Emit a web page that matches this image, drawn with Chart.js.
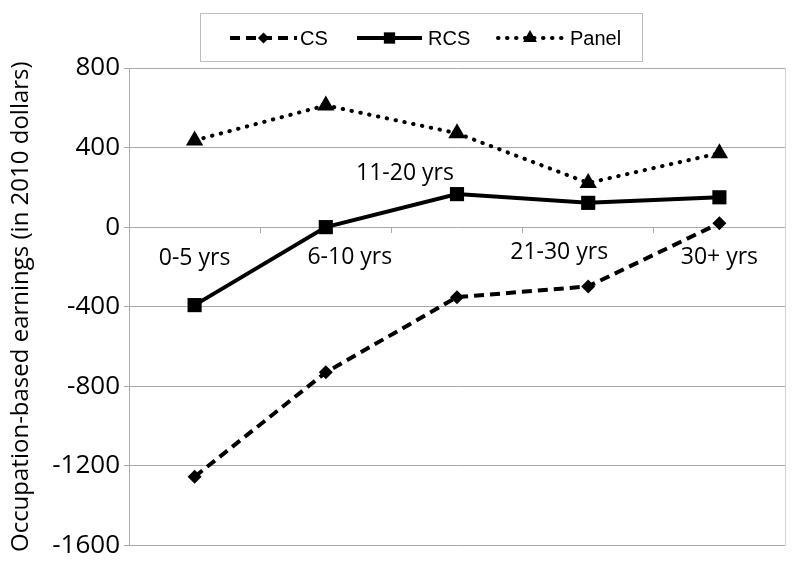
<!DOCTYPE html>
<html>
<head>
<meta charset="utf-8">
<script src="https://cdn.jsdelivr.net/npm/chart.js@4"></script>
<style>
    html, body { margin: 0; padding: 0; background: #ffffff; }
    #wrap { width: 800px; height: 565px; }
</style>
</head>
<body>
<div id="wrap"><canvas id="earningsChart" width="800" height="565"></canvas></div>
<script>
// Категории (опыт работы)
const categories = ['0-5 yrs', '6-10 yrs', '11-20 yrs', '21-30 yrs', '30+ yrs'];

// Значения серий
const csValues = [-1255, -730, -352, -298, 20];
const rcsValues = [-392, 0, 166, 122, 150];
const panelValues = [436, 612, 472, 222, 372];

// Шкала Y
const yMin = -1600;
const yMax = 800;
const yStep = 400;

const seriesNames = ['CS', 'RCS', 'Panel'];

// Стили серий
const seriesStyles = [
    { dash: [10, 6], cap: 'butt', point: 'rectRot', radius: 7 },
    { dash: [], cap: 'butt', point: 'rect', radius: 10 },
    { dash: [0.5, 8.5], cap: 'round', point: 'triangle', radius: 10 }
];

// Смещения подписей категорий относительно центра и линии 0
const labelOffsets = [
    { dx: 0, dy: 31 },
    { dx: 24, dy: 30 },
    { dx: -52, dy: -54 },
    { dx: -29, dy: 25 },
    { dx: 0, dy: 30 }
];

const gridColor = '#a9a9a9';

const categoryLabels = {
    id: 'categoryLabels',
    afterDatasetsDraw(chart) {
        const ctx = chart.ctx;
        const x = chart.scales.x;
        const y = chart.scales.y;
        const zero = y.getPixelForValue(0);
        ctx.save();
        ctx.font = '23px "Open Sans"';
        ctx.fillStyle = '#000';
        ctx.textAlign = 'center';
        ctx.textBaseline = 'middle';
        categories.forEach((label, i) => {
            const off = labelOffsets[i];
            ctx.fillText(label, x.getPixelForValue(i) + off.dx, zero + off.dy);
        });
        ctx.restore();
    }
};

const boxLegend = {
    id: 'boxLegend',
    afterDraw(chart) {
        const ctx = chart.ctx;
        ctx.save();
        // рамка легенды
        ctx.strokeStyle = '#bdbdbd';
        ctx.lineWidth = 1;
        ctx.strokeRect(200.5, 13.5, 442, 48);

        const items = [
            { x1: 230, x2: 297, text: 300 },
            { x1: 357, x2: 422, text: 428 },
            { x1: 498, x2: 562, text: 570 }
        ];
        const ly = 38;
        items.forEach((it, i) => {
            const st = seriesStyles[i];
            ctx.beginPath();
            ctx.setLineDash(st.dash);
            ctx.lineCap = st.cap;
            ctx.lineWidth = 4;
            ctx.strokeStyle = '#000';
            ctx.moveTo(it.x1, ly);
            ctx.lineTo(it.x2, ly);
            ctx.stroke();
            ctx.setLineDash([]);
            ctx.fillStyle = '#000';
            Chart.helpers.drawPoint(ctx, { pointStyle: st.point, radius: st.radius * 0.8, rotation: 0, borderWidth: 0 }, (it.x1 + it.x2) / 2, ly);
            ctx.font = '20px "Liberation Sans"';
            ctx.textBaseline = 'middle';
            ctx.textAlign = 'left';
            ctx.fillText(seriesNames[i], it.text, ly + 1);
        });

        // правая граница области графика
        const a = chart.chartArea;
        ctx.strokeStyle = '#d4d4d4';
        ctx.lineWidth = 1;
        ctx.beginPath();
        ctx.moveTo(Math.round(a.right) + 0.5, a.top);
        ctx.lineTo(Math.round(a.right) + 0.5, a.bottom);
        ctx.stroke();
        ctx.restore();
    }
};

const allValues = [csValues, rcsValues, panelValues];

const datasets = allValues.map((vals, i) => ({
    label: seriesNames[i],
    data: vals,
    borderColor: '#000',
    backgroundColor: '#000',
    borderWidth: 4,
    borderDash: seriesStyles[i].dash,
    borderCapStyle: seriesStyles[i].cap,
    pointStyle: seriesStyles[i].point,
    pointRadius: seriesStyles[i].radius,
    pointBorderWidth: 0,
    pointBackgroundColor: '#000',
    tension: 0,
    clip: false
}));

const ctx = document.getElementById('earningsChart').getContext('2d');

new Chart(ctx, {
    type: 'line',
    data: {
        labels: categories,
        datasets: datasets
    },
    options: {
        responsive: false,
        animation: false,
        devicePixelRatio: 1,
        layout: { padding: { top: 68, right: 15, bottom: 18, left: 0 } },
        plugins: {
            legend: { display: false },
            tooltip: { enabled: false }
        },
        scales: {
            x: {
                type: 'category',
                offset: true,
                position: { y: 0 },
                grid: {
                    drawOnChartArea: false,
                    drawTicks: true,
                    tickLength: 6,
                    color: gridColor,
                    offset: true
                },
                border: { display: false },
                ticks: { display: false }
            },
            y: {
                min: yMin,
                max: yMax,
                afterFit(scale) { scale.width = 129; },
                ticks: {
                    stepSize: yStep,
                    color: '#000',
                    font: { family: '"Open Sans"', size: 26 },
                    padding: 4,
                    callback: (v) => String(v)
                },
                grid: {
                    color: gridColor,
                    tickLength: 5
                },
                border: { color: gridColor },
                title: {
                    display: true,
                    text: 'Occupation-based earnings (in 2010 dollars)',
                    color: '#000',
                    font: { family: '"Open Sans"', size: 24 },
                    padding: { top: 7, bottom: 0 }
                }
            }
        }
    },
    plugins: [categoryLabels, boxLegend]
});
</script>
</body>
</html>
